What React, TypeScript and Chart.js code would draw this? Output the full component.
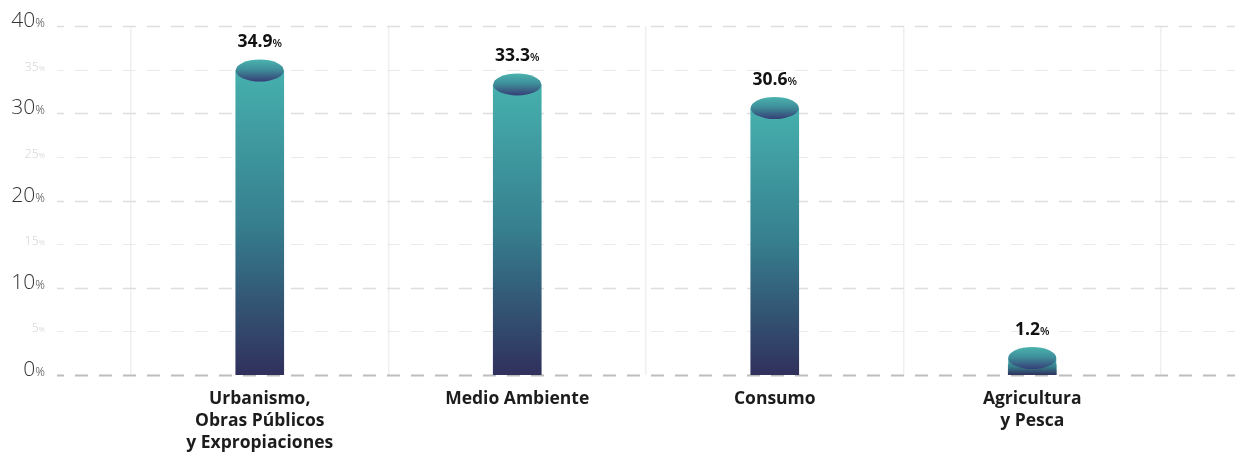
import { useEffect, useRef } from "react";
import { Chart, registerables } from "chart.js";

Chart.register(...registerables);

const categories: (string | string[])[] = [
  ["Urbanismo,", "Obras Públicos", "y Expropiaciones"],
  "Medio Ambiente",
  "Consumo",
  ["Agricultura", "y Pesca"],
];
const values = [34.9, 33.3, 30.6, 1.2];
const yTickValues = [0, 5, 10, 15, 20, 25, 30, 35, 40];
const majorTicks = [0, 10, 20, 30, 40];

const FONT = "'Open Sans', sans-serif";

const bodyGradient = (ctx: CanvasRenderingContext2D, top: number, bottom: number) => {
  const g = ctx.createLinearGradient(0, top, 0, bottom);
  g.addColorStop(0, "#46b0ad");
  g.addColorStop(0.5, "#367f8f");
  g.addColorStop(1, "#30305c");
  return g;
};

const decorPlugin = {
  id: "decor",
  beforeDatasetsDraw(chart: any) {
    const ctx = chart.ctx as CanvasRenderingContext2D;
    const y = chart.scales.y;
    const w = chart.width;
    ctx.save();
    yTickValues.forEach((v) => {
      const py = Math.round(y.getPixelForValue(v)) + 0.5;
      const major = majorTicks.includes(v);
      ctx.beginPath();
      ctx.setLineDash([13, 11]);
      ctx.lineDashOffset = 6;
      ctx.strokeStyle = v === 0 ? "#bdbdbd" : major ? "#dedede" : "#ebebeb";
      ctx.lineWidth = v === 0 ? 2 : major ? 1.6 : 1.2;
      ctx.moveTo(57, py);
      ctx.lineTo(w, py);
      ctx.stroke();
      ctx.setLineDash([]);
      ctx.textBaseline = "alphabetic";
      ctx.textAlign = "left";
      const num = String(v);
      const bigSize = major ? 21 : 12;
      const pctSize = major ? 12 : 8;
      ctx.font = `300 ${bigSize}px ${FONT}`;
      const nw = ctx.measureText(num).width;
      ctx.font = `300 ${pctSize}px ${FONT}`;
      const pw = ctx.measureText("%").width;
      const right = 45;
      const x0 = right - nw - pw;
      ctx.fillStyle = major ? "#333333" : "#cfcfcf";
      ctx.font = `300 ${bigSize}px ${FONT}`;
      ctx.fillText(num, x0, py);
      ctx.font = `300 ${pctSize}px ${FONT}`;
      ctx.fillText("%", x0 + nw, py);
    });
    ctx.restore();
  },
  afterDatasetsDraw(chart: any) {
    const ctx = chart.ctx as CanvasRenderingContext2D;
    const meta = chart.getDatasetMeta(0);
    ctx.save();
    meta.data.forEach((bar: any, i: number) => {
      const { x, y, base, width } = bar.getProps(["x", "y", "base", "width"], true);
      if (![x, y, base, width].every((n) => Number.isFinite(n))) return;
      const rx = width / 2;
      const ry = 11;
      const cy = Math.min(y, base - 17);
      if (cy < y) {
        ctx.fillStyle = bodyGradient(ctx, cy, base);
        ctx.fillRect(x - rx, cy, width, base - cy);
      }
      const g = ctx.createLinearGradient(0, cy - ry, 0, cy + ry);
      g.addColorStop(0, "#4ab3ae");
      g.addColorStop(0.45, "#3f8f9b");
      g.addColorStop(1, "#363f76");
      ctx.beginPath();
      ctx.ellipse(x, cy, rx, ry, 0, 0, Math.PI * 2);
      ctx.fillStyle = g;
      ctx.fill();
      const num = values[i].toFixed(1);
      ctx.textBaseline = "alphabetic";
      ctx.textAlign = "left";
      ctx.font = `700 17.5px ${FONT}`;
      const nw = ctx.measureText(num).width;
      ctx.font = `600 11px ${FONT}`;
      const pw = ctx.measureText("%").width;
      const x0 = x - (nw + pw) / 2;
      const by = cy - ry - 12;
      ctx.fillStyle = "#111111";
      ctx.font = `700 17.5px ${FONT}`;
      ctx.fillText(num, x0, by);
      ctx.font = `600 11px ${FONT}`;
      ctx.fillText("%", x0 + nw, by);
    });
    ctx.restore();
  },
};

export default function App() {
  const ref = useRef<HTMLCanvasElement | null>(null);
  useEffect(() => {
    document.body.style.margin = "0";
    if (!ref.current) return;
    const chart = new Chart(ref.current, {
      type: "bar",
      data: {
        labels: categories,
        datasets: [
          {
            data: values,
            barThickness: 48,
            backgroundColor: (c: any) => {
              const ch = c.chart;
              const ys = ch.scales?.y;
              const v = values[c.dataIndex];
              if (!ys || v == null) return "#3a7f8e";
              const top = ys.getPixelForValue(v);
              const bottom = ys.getPixelForValue(0);
              if (!Number.isFinite(top) || !Number.isFinite(bottom) || top === bottom) return "#3a7f8e";
              return bodyGradient(ch.ctx, top, bottom);
            },
            borderWidth: 0,
          },
        ],
      },
      options: {
        animation: false,
        responsive: false,
        maintainAspectRatio: false,
        layout: { padding: { left: 131, right: 74, top: 26, bottom: 0 } },
        plugins: { legend: { display: false }, tooltip: { enabled: false } },
        scales: {
          x: {
            offset: true,
            border: { display: false },
            grid: { color: "#efefef", lineWidth: 1.5, drawTicks: false },
            afterFit: (scale: any) => {
              scale.height = 79;
            },
            ticks: {
              color: "#1c1c1c",
              padding: 13,
              font: { family: FONT, weight: "bold", size: 17.5, lineHeight: 22 / 17.5 },
              maxRotation: 0,
              autoSkip: false,
            },
          },
          y: {
            display: false,
            min: 0,
            max: 40,
          },
        },
      },
      plugins: [decorPlugin],
    });
    return () => chart.destroy();
  }, []);
  return (
    <div style={{ width: 1235, height: 454 }}>
      <canvas ref={ref} width={1235} height={454} style={{ width: 1235, height: 454, display: "block" }} />
    </div>
  );
}
